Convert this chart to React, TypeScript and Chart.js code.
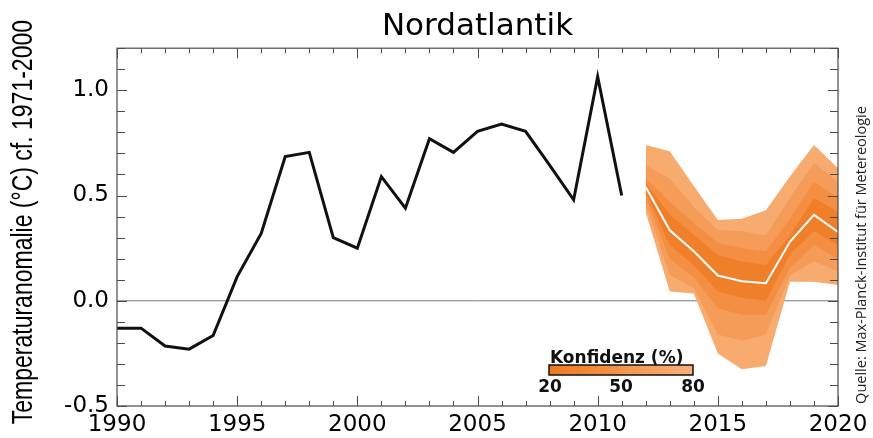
import React, { useEffect, useRef } from 'react';
import { Chart, registerables } from 'chart.js';

Chart.register(...registerables);

// ---- Data ----
const obsYears = [1990, 1991, 1992, 1993, 1994, 1995, 1996, 1997, 1998, 1999, 2000, 2001, 2002, 2003, 2004, 2005, 2006, 2007, 2008, 2009, 2010, 2011];
const obsValues = [-0.13, -0.13, -0.215, -0.23, -0.165, 0.115, 0.32, 0.685, 0.705, 0.3, 0.25, 0.59, 0.44, 0.77, 0.705, 0.805, 0.84, 0.805, 0.645, 0.48, 1.065, 0.5];

const fcYears = [2012, 2013, 2014, 2015, 2016, 2017, 2018, 2019, 2020];
const fcMedian = [0.54, 0.335, 0.235, 0.12, 0.093, 0.083, 0.28, 0.408, 0.327];
const band80Upper = [0.74, 0.71, 0.545, 0.384, 0.39, 0.43, 0.59, 0.74, 0.63];
const band80Lower = [0.42, 0.044, 0.035, -0.25, -0.325, -0.31, 0.09, 0.09, 0.075];
const band65Upper = [0.645, 0.58, 0.447, 0.336, 0.33, 0.31, 0.49, 0.654, 0.565];
const band65Lower = [0.46, 0.123, 0.06, -0.16, -0.19, -0.16, 0.12, 0.186, 0.14];
const band50Upper = [0.58, 0.47, 0.37, 0.275, 0.25, 0.234, 0.39, 0.565, 0.49];
const band50Lower = [0.49, 0.2, 0.11, -0.035, -0.066, -0.066, 0.156, 0.265, 0.2];
const band35Upper = [0.56, 0.41, 0.313, 0.218, 0.186, 0.17, 0.31, 0.488, 0.42];
const band35Lower = [0.515, 0.265, 0.17, 0.044, 0.014, 0.0, 0.22, 0.33, 0.265];

const xTickYears = [1990, 1995, 2000, 2005, 2010, 2015, 2020];
const yTickValues = [-0.5, 0.0, 0.5, 1.0];
const legendLabels = ['20', '50', '80'];

const titleText = 'Nordatlantik';
const yTitleText = 'Temperaturanomalie (°C) cf. 1971-2000';
const sourceText = 'Quelle: Max-Planck-Institut für Metereologie';
const legendTitle = 'Konfidenz (%)';

const X_MIN = 1990, X_MAX = 2020, Y_MIN = -0.5, Y_MAX = 1.2;

const colors = {
  c80: '#F7AB6F',
  c65: '#F59C58',
  c50: '#F38E43',
  c35: '#F07F2A',
};

const pts = (xs: number[], ys: number[]) => xs.map((x, i) => ({ x, y: ys[i] }));

const decorations = {
  id: 'decorations',
  beforeDatasetsDraw(chart: any) {
    const { ctx, chartArea: a, scales } = chart;
    const y0 = scales.y.getPixelForValue(0);
    ctx.save();
    ctx.strokeStyle = '#7a7a7a';
    ctx.lineWidth = 1;
    ctx.beginPath();
    ctx.moveTo(a.left, y0);
    ctx.lineTo(a.right, y0);
    ctx.stroke();
    ctx.restore();
  },
  afterDatasetsDraw(chart: any) {
    const { ctx, chartArea: a, scales } = chart;
    const xs = scales.x, ys = scales.y;
    ctx.save();
    ctx.strokeStyle = '#4a4a4a';
    ctx.lineWidth = 1.2;
    ctx.strokeRect(a.left, a.top, a.right - a.left, a.bottom - a.top);
    ctx.lineWidth = 1;
    ctx.beginPath();
    for (let yr = X_MIN; yr <= X_MAX; yr++) {
      const px = Math.round(xs.getPixelForValue(yr)) + 0.5;
      const len = yr % 5 === 0 ? 10 : 5;
      ctx.moveTo(px, a.bottom);
      ctx.lineTo(px, a.bottom - len);
      ctx.moveTo(px, a.top);
      ctx.lineTo(px, a.top + len);
    }
    for (let k = -5; k <= 12; k++) {
      const v = k / 10;
      const py = Math.round(ys.getPixelForValue(v)) + 0.5;
      const len = k % 5 === 0 ? 10 : 8;
      ctx.moveTo(a.left, py);
      ctx.lineTo(a.left + len, py);
      ctx.moveTo(a.right, py);
      ctx.lineTo(a.right - len, py);
    }
    ctx.stroke();
    ctx.restore();
  },
  afterDraw(chart: any) {
    const { ctx, chartArea: a } = chart;
    ctx.save();
    // y axis title (rotated)
    ctx.translate(24, (a.top + a.bottom) / 2 - 5);
    ctx.rotate(-Math.PI / 2);
    ctx.scale(1, 1.3);
    ctx.fillStyle = '#000';
    ctx.font = '23px "Liberation Sans", Arial, sans-serif';
    ctx.textAlign = 'center';
    ctx.textBaseline = 'middle';
    ctx.fillText(yTitleText, 0, 0);
    ctx.restore();

    // source text (rotated)
    ctx.save();
    ctx.translate(862, 255);
    ctx.rotate(-Math.PI / 2);
    ctx.fillStyle = '#222';
    ctx.font = '14.5px "Open Sans", sans-serif';
    ctx.textAlign = 'center';
    ctx.textBaseline = 'middle';
    ctx.fillText(sourceText, 0, 0);
    ctx.restore();

    // confidence legend
    ctx.save();
    const bx = 549, by = 365, bw = 144, bh = 10;
    ctx.fillStyle = '#111';
    ctx.font = 'bold 17px "DejaVu Sans", sans-serif';
    ctx.textAlign = 'left';
    ctx.textBaseline = 'alphabetic';
    ctx.fillText(legendTitle, bx + 1, by - 2);
    const g = ctx.createLinearGradient(bx, 0, bx + bw, 0);
    g.addColorStop(0, '#EF7A1E');
    g.addColorStop(1, '#F7B07A');
    ctx.fillStyle = g;
    ctx.fillRect(bx, by, bw, bh);
    ctx.strokeStyle = '#111';
    ctx.lineWidth = 1.5;
    ctx.strokeRect(bx, by, bw, bh);
    ctx.fillStyle = '#111';
    ctx.textAlign = 'center';
    const lx = [bx + 1, bx + bw / 2, bx + bw];
    legendLabels.forEach((t, i) => ctx.fillText(t, lx[i], 392));
    ctx.restore();
  },
};

export default function App() {
  const ref = useRef<HTMLCanvasElement | null>(null);
  useEffect(() => {
    if (!ref.current) return;
    const band = (up: number[], lo: number[], color: string, idx: number) => [
      { data: pts(fcYears, up), borderWidth: 0, pointRadius: 0, backgroundColor: color, fill: { target: idx + 1 }, tension: 0 },
      { data: pts(fcYears, lo), borderWidth: 0, pointRadius: 0, backgroundColor: color, fill: false, tension: 0 },
    ];
    const chart = new Chart(ref.current, {
      type: 'line',
      data: {
        datasets: [
          { data: pts(obsYears, obsValues), borderColor: '#111', borderWidth: 3, pointRadius: 0, fill: false, tension: 0, borderJoinStyle: 'miter' },
          { data: pts(fcYears, fcMedian), borderColor: '#ffffff', borderWidth: 2, pointRadius: 0, fill: false, tension: 0 },
          ...band(band35Upper, band35Lower, colors.c35, 2),
          ...band(band50Upper, band50Lower, colors.c50, 4),
          ...band(band65Upper, band65Lower, colors.c65, 6),
          ...band(band80Upper, band80Lower, colors.c80, 8),
        ] as any,
      },
      options: {
        animation: false,
        responsive: false,
        maintainAspectRatio: false,
        layout: { padding: { left: 0, right: 35, top: 0, bottom: 0 } },
        plugins: {
          legend: { display: false },
          tooltip: { enabled: false },
          title: {
            display: true,
            text: titleText,
            fullSize: false,
            color: '#000',
            font: { family: '"DejaVu Sans", sans-serif', size: 31, weight: 'normal' },
            padding: { top: 8, bottom: 3 },
          },
        },
        scales: {
          x: {
            type: 'linear',
            min: X_MIN,
            max: X_MAX,
            grid: { display: false, drawTicks: false },
            border: { display: false },
            afterBuildTicks: (s: any) => { s.ticks = xTickYears.map((v) => ({ value: v })); },
            afterFit: (s: any) => { s.height = 32; },
            ticks: {
              autoSkip: false,
              maxRotation: 0,
              padding: 5,
              color: '#000',
              font: { family: '"DejaVu Sans", sans-serif', size: 23 },
              callback: (v: any) => String(v),
            },
          },
          y: {
            type: 'linear',
            min: Y_MIN,
            max: Y_MAX,
            grid: { display: false, drawTicks: false },
            border: { display: false },
            afterBuildTicks: (s: any) => { s.ticks = yTickValues.map((v) => ({ value: v })); },
            afterFit: (s: any) => { s.width = 117; },
            ticks: {
              padding: 8,
              color: '#000',
              font: { family: '"DejaVu Sans", sans-serif', size: 23 },
              callback: (v: any) => Number(v).toFixed(1),
            },
          },
        },
      },
      plugins: [decorations],
    });
    return () => chart.destroy();
  }, []);
  return (
    <div style={{ position: 'fixed', left: 0, top: 0, width: 873, height: 438, background: '#fff' }}>
      <canvas ref={ref} width={873} height={438} style={{ width: 873, height: 438, display: 'block' }} />
    </div>
  );
}
